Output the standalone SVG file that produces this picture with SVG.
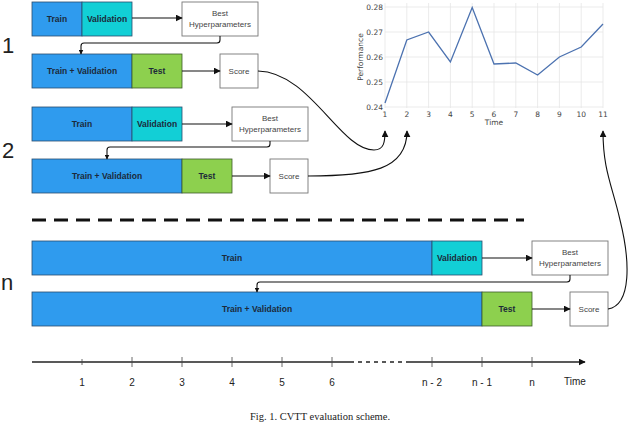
<svg xmlns="http://www.w3.org/2000/svg" width="640" height="428" viewBox="0 0 640 428">
<style>
.tr{fill:#2f9bee;stroke:#2a4d6e;stroke-width:0.8}
.va{fill:#12cfd6;stroke:#2a4d6e;stroke-width:0.8}
.te{fill:#8dd04e;stroke:#3d5a2a;stroke-width:0.8}
.wb{fill:#fff;stroke:#777;stroke-width:0.9}
.bl{font-family:"Liberation Sans",Arial,sans-serif;font-size:8.5px;font-weight:bold;fill:#1c2a3a;text-anchor:middle}
.wt{font-family:"Liberation Sans",Arial,sans-serif;font-size:8px;fill:#444;text-anchor:middle}
.big{font-family:"Liberation Sans",Arial,sans-serif;font-size:22px;fill:#222}
.tl{font-family:"Liberation Sans",Arial,sans-serif;font-size:10px;fill:#222;text-anchor:middle}
.ck{font-family:"DejaVu Sans",sans-serif;font-size:7.5px;fill:#444}
.cn{fill:none;stroke:#111;stroke-width:1.1}
.gr{stroke:#e6e6e6;stroke-width:0.8}
</style>
<defs>
<marker id="ah" viewBox="0 0 10 10" refX="9" refY="5" markerWidth="7" markerHeight="7" markerUnits="userSpaceOnUse" orient="auto">
<path d="M0,0 L10,5 L0,10 Z" fill="#111"/>
</marker>
<marker id="ahs" viewBox="0 0 10 10" refX="9" refY="5" markerWidth="5" markerHeight="5" markerUnits="userSpaceOnUse" orient="auto">
<path d="M0,0 L10,5 L0,10 Z" fill="#111"/>
</marker>
</defs>

<text class="big" x="2" y="53">1</text>
<text class="big" x="2" y="158">2</text>
<text class="big" x="1" y="290">n</text>

<g id="b1r1">
<rect class="tr" x="32" y="2" width="50" height="34"/><text class="bl" x="57" y="22">Train</text>
<rect class="va" x="82" y="2" width="50" height="34"/><text class="bl" x="107" y="22">Validation</text>
</g>
<g id="b1hp"><rect class="wb" x="182" y="2" width="76" height="34"/><text class="wt" x="220" y="16">Best</text><text class="wt" x="220" y="27">Hyperparameters</text></g>
<g id="b1r2">
<rect class="tr" x="32" y="54" width="100" height="34"/><text class="bl" x="82" y="74">Train + Validation</text>
<rect class="te" x="132" y="54" width="50" height="34"/><text class="bl" x="157" y="74">Test</text>
</g>
<g id="b1sc"><rect class="wb" x="220" y="54" width="38" height="34"/><text class="wt" x="239" y="74">Score</text></g>

<g id="b2r1">
<rect class="tr" x="32" y="107" width="100" height="34"/><text class="bl" x="82" y="127">Train</text>
<rect class="va" x="132" y="107" width="50" height="34"/><text class="bl" x="157" y="127">Validation</text>
</g>
<g id="b2hp"><rect class="wb" x="232" y="107" width="76" height="34"/><text class="wt" x="270" y="121">Best</text><text class="wt" x="270" y="132">Hyperparameters</text></g>
<g id="b2r2">
<rect class="tr" x="32" y="159" width="150" height="34"/><text class="bl" x="107" y="179">Train + Validation</text>
<rect class="te" x="182" y="159" width="50" height="34"/><text class="bl" x="207" y="179">Test</text>
</g>
<g id="b2sc"><rect class="wb" x="270" y="159" width="38" height="34"/><text class="wt" x="289" y="179">Score</text></g>

<line x1="32" y1="220" x2="524" y2="220" stroke="#111" stroke-width="3" stroke-dasharray="14,8"/>

<g id="bnr1">
<rect class="tr" x="32" y="241" width="400" height="34"/><text class="bl" x="232" y="261">Train</text>
<rect class="va" x="432" y="241" width="50" height="34"/><text class="bl" x="457" y="261">Validation</text>
</g>
<g id="bnhp"><rect class="wb" x="532" y="241" width="76" height="34"/><text class="wt" x="570" y="255">Best</text><text class="wt" x="570" y="266">Hyperparameters</text></g>
<g id="bnr2">
<rect class="tr" x="32" y="292" width="450" height="34"/><text class="bl" x="257" y="312">Train + Validation</text>
<rect class="te" x="482" y="292" width="50" height="34"/><text class="bl" x="507" y="312">Test</text>
</g>
<g id="bnsc"><rect class="wb" x="570" y="292" width="38" height="34"/><text class="wt" x="589" y="312">Score</text></g>

<g id="chart">
<g class="gr">
<line x1="385" y1="3" x2="385" y2="108"/><line x1="406.8" y1="3" x2="406.8" y2="108"/><line x1="428.6" y1="3" x2="428.6" y2="108"/><line x1="450.4" y1="3" x2="450.4" y2="108"/><line x1="472.2" y1="3" x2="472.2" y2="108"/><line x1="494" y1="3" x2="494" y2="108"/><line x1="515.8" y1="3" x2="515.8" y2="108"/><line x1="537.6" y1="3" x2="537.6" y2="108"/><line x1="559.4" y1="3" x2="559.4" y2="108"/><line x1="581.2" y1="3" x2="581.2" y2="108"/><line x1="603" y1="3" x2="603" y2="108"/>
<line x1="385" y1="7" x2="603" y2="7"/><line x1="385" y1="32" x2="603" y2="32"/><line x1="385" y1="57" x2="603" y2="57"/><line x1="385" y1="82" x2="603" y2="82"/><line x1="385" y1="107" x2="603" y2="107"/>
</g>
<polyline fill="none" stroke="#4c72b0" stroke-width="1.3" points="385,103 406.8,40 428.6,32 450.4,62 472.2,7.5 494,64 515.8,63 537.6,75 559.4,57 581.2,47 603,24"/>
<g class="ck" text-anchor="end">
<text x="383" y="9.5">0.28</text><text x="383" y="34.5">0.27</text><text x="383" y="59.5">0.26</text><text x="383" y="84.5">0.25</text><text x="383" y="109.5">0.24</text>
</g>
<g class="ck" text-anchor="middle">
<text x="385" y="117">1</text><text x="406.8" y="117">2</text><text x="428.6" y="117">3</text><text x="450.4" y="117">4</text><text x="472.2" y="117">5</text><text x="494" y="117">6</text><text x="515.8" y="117">7</text><text x="537.6" y="117">8</text><text x="559.4" y="117">9</text><text x="581.2" y="117">10</text><text x="603" y="117">11</text>
<text x="494" y="125">Time</text>
<text transform="translate(363,57) rotate(-90)">Performance</text>
</g>
</g>

<g id="timeline">
<line x1="32" y1="362" x2="350" y2="362" stroke="#222" stroke-width="1.3"/>
<line x1="350" y1="362" x2="410" y2="362" stroke="#222" stroke-width="1.3" stroke-dasharray="4,4"/>
<line x1="410" y1="362" x2="585" y2="362" stroke="#222" stroke-width="1.3" marker-end="url(#ah)"/>
<g stroke="#444" stroke-width="0.8">
<line x1="82" y1="359" x2="82" y2="365"/><line x1="132" y1="357" x2="132" y2="367"/><line x1="182" y1="357" x2="182" y2="367"/><line x1="232" y1="357" x2="232" y2="367"/><line x1="282" y1="357" x2="282" y2="367"/><line x1="332" y1="357" x2="332" y2="367"/><line x1="432" y1="357" x2="432" y2="367"/><line x1="482" y1="357" x2="482" y2="367"/><line x1="532" y1="357" x2="532" y2="367"/>
</g>
<text class="tl" x="82" y="386">1</text><text class="tl" x="132" y="386">2</text><text class="tl" x="182" y="386">3</text><text class="tl" x="232" y="386">4</text><text class="tl" x="282" y="386">5</text><text class="tl" x="332" y="386">6</text><text class="tl" x="432" y="386">n - 2</text><text class="tl" x="482" y="386">n - 1</text><text class="tl" x="532" y="386">n</text><text class="tl" x="575" y="385">Time</text>
</g>

<text x="320" y="420" font-family="Liberation Serif,serif" font-size="10.5" fill="#222" text-anchor="middle">Fig. 1.  CVTT evaluation scheme.</text>

<g id="connectors">
<path class="cn" d="M132,18 L182,18" marker-end="url(#ah)"/>
<path class="cn" d="M220,36 L220,40 Q220,43 217,43 L84,43 Q81,43 81,46 L81,54" marker-end="url(#ahs)"/>
<path class="cn" d="M182,71 L220,71" marker-end="url(#ah)"/>
<path class="cn" d="M182,124 L232,124" marker-end="url(#ah)"/>
<path class="cn" d="M270,141 L270,144 Q270,147 267,147 L110,147 Q107,147 107,150 L107,159" marker-end="url(#ahs)"/>
<path class="cn" d="M232,176 L270,176" marker-end="url(#ah)"/>
<path class="cn" d="M482,258 L532,258" marker-end="url(#ah)"/>
<path class="cn" d="M570,275 L570,279 Q570,282 567,282 L260,282 Q257,282 257,285 L257,292" marker-end="url(#ahs)"/>
<path class="cn" d="M532,309 L570,309" marker-end="url(#ah)"/>
<path class="cn" d="M258,71 C310,72 340,150 374,150 C384,150 385,142 385,131" marker-end="url(#ah)"/>
<path class="cn" d="M308,176 C370,176 407,170 407,131" marker-end="url(#ah)"/>
<path class="cn" d="M608,309 C632,305 630,260 620,220 C612,185 603,170 603,131" marker-end="url(#ah)"/>
</g>
</svg>
